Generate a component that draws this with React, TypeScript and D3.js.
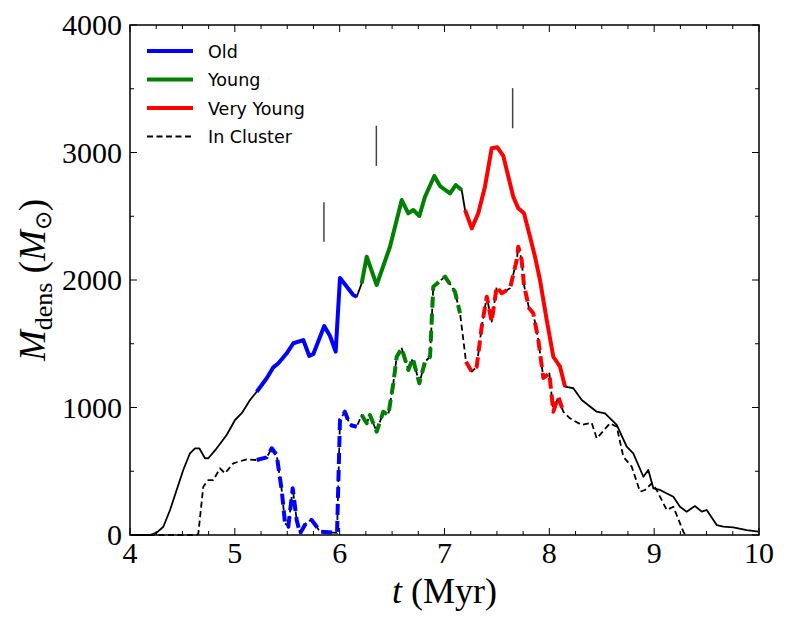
import * as d3 from "d3";

// total dense mass vs time (solid line)
const T_TOTAL = [4.0, 4.19, 4.255, 4.318, 4.382, 4.445, 4.508, 4.572, 4.62, 4.661, 4.715, 4.747, 4.827, 4.922, 5.002, 5.066, 5.145, 5.209, 5.304, 5.367, 5.415, 5.495, 5.558, 5.653, 5.71, 5.749, 5.853, 5.908, 5.962, 6.003, 6.13, 6.163, 6.21, 6.258, 6.353, 6.48, 6.592, 6.655, 6.702, 6.76, 6.814, 6.903, 6.957, 7.053, 7.107, 7.164, 7.196, 7.26, 7.322, 7.386, 7.45, 7.504, 7.561, 7.609, 7.656, 7.704, 7.758, 7.816, 7.863, 7.911, 7.975, 8.038, 8.102, 8.15, 8.229, 8.309, 8.452, 8.531, 8.643, 8.738, 8.801, 8.897, 8.944, 8.992, 9.056, 9.183, 9.246, 9.31, 9.389, 9.454, 9.501, 9.597, 9.66, 9.755, 9.883, 9.994];
const M_TOTAL = [0, 0, 18, 65, 196, 353, 510, 641, 680, 680, 602, 602, 680, 784, 902, 955, 1059, 1124, 1229, 1315, 1347, 1425, 1504, 1529, 1404, 1420, 1639, 1561, 1438, 2016, 1882, 1869, 1974, 2183, 1961, 2261, 2627, 2523, 2549, 2502, 2653, 2816, 2737, 2680, 2745, 2706, 2549, 2405, 2523, 2732, 3033, 3041, 2973, 2810, 2653, 2562, 2523, 2340, 2183, 2000, 1686, 1398, 1320, 1163, 1151, 1059, 967, 954, 863, 693, 641, 457, 510, 366, 353, 300, 222, 183, 227, 183, 196, 78, 65, 60, 39, 26];

// mass in cluster (dashed line)
const T_CLUSTER = [4.0, 4.64, 4.652, 4.699, 4.747, 4.795, 4.859, 4.906, 4.985, 5.113, 5.209, 5.304, 5.352, 5.399, 5.447, 5.479, 5.51, 5.552, 5.59, 5.622, 5.686, 5.733, 5.781, 5.812, 5.939, 5.975, 6.003, 6.05, 6.098, 6.163, 6.21, 6.258, 6.289, 6.353, 6.416, 6.464, 6.512, 6.544, 6.592, 6.655, 6.697, 6.76, 6.814, 6.862, 6.893, 7.005, 7.1, 7.148, 7.18, 7.205, 7.26, 7.307, 7.355, 7.403, 7.45, 7.498, 7.546, 7.625, 7.689, 7.704, 7.736, 7.758, 7.806, 7.847, 7.895, 7.943, 8.0, 8.038, 8.086, 8.133, 8.197, 8.309, 8.404, 8.452, 8.579, 8.643, 8.706, 8.786, 8.865, 8.913, 8.977, 9.024, 9.12, 9.183, 9.278, 9.3];
const M_CLUSTER = [0, 0, 13, 379, 431, 431, 523, 484, 562, 594, 588, 609, 680, 627, 353, 92, 65, 366, 118, 13, 104, 118, 65, 26, 18, 16, 902, 967, 863, 849, 941, 876, 941, 810, 967, 941, 1190, 1398, 1464, 1294, 1386, 1190, 1359, 1398, 1947, 2026, 1908, 1739, 1529, 1359, 1281, 1320, 1634, 1869, 1673, 1947, 1896, 1935, 2157, 2261, 2157, 1961, 1780, 1739, 1529, 1231, 1268, 967, 1085, 967, 915, 863, 881, 758, 876, 849, 614, 536, 340, 353, 405, 353, 196, 222, 26, 0];

const GROUPS = ["Old", "Young", "Very Young"];
const COLORS = ["#0000ff", "#008000", "#ff0000"];
const TOTAL_RANGES = [[5.2, 6.17], [6.2, 7.17], [7.19, 8.16]];
const CLUSTER_RANGES = [[5.2, 6.17], [6.2, 7.15], [7.2, 8.14]];

const MARKER_T = [5.85, 6.35, 7.65];
const MARKER_M = [[2300, 2610], [2895, 3210], [3190, 3505]];

const X_TICKS = [4, 5, 6, 7, 8, 9, 10];
const Y_TICKS = [0, 1000, 2000, 3000, 4000];

const W = 789, H = 630;
const L = 130, R = 759, T = 25, B = 535;

export default function App() {
  const x = d3.scaleLinear().domain([4, 10]).range([L, R]);
  const y = d3.scaleLinear().domain([0, 4000]).range([B, T]);
  const line = d3.line<[number, number]>().x(d => x(d[0])).y(d => y(d[1]));

  const total: [number, number][] = T_TOTAL.map((t, i) => [t, M_TOTAL[i]]);
  const cluster: [number, number][] = T_CLUSTER.map((t, i) => [t, M_CLUSTER[i]]);
  const part = (pts: [number, number][], r: number[]) => pts.filter(p => p[0] >= r[0] && p[0] <= r[1]);

  const xMinor = d3.range(4, 10.001, 0.25);
  const yMinor = d3.range(0, 4001, 500);
  const serif = "'Liberation Serif', 'Times New Roman', serif";
  const sans = "'DejaVu Sans', sans-serif";

  return (
    <svg width={W} height={H} style={{ position: "absolute", left: 0, top: 0, background: "#fff" }}>
      <g fill="none" strokeLinejoin="round">
        <path d={line(cluster) || ""} stroke="#000" strokeWidth={1.8} strokeDasharray="6,3.5" />
        {CLUSTER_RANGES.map((r, i) => (
          <path key={"c" + i} d={line(part(cluster, r)) || ""} stroke={COLORS[i]} strokeWidth={4} strokeDasharray="11,6" />
        ))}
        <path d={line(total) || ""} stroke="#000" strokeWidth={1.8} />
        {TOTAL_RANGES.map((r, i) => (
          <path key={"t" + i} d={line(part(total, r)) || ""} stroke={COLORS[i]} strokeWidth={4} />
        ))}
      </g>

      {MARKER_T.map((t, i) => (
        <line key={"m" + i} x1={x(t)} x2={x(t)} y1={y(MARKER_M[i][0])} y2={y(MARKER_M[i][1])} stroke="#444" strokeWidth={1.5} />
      ))}

      {/* ticks, inward on every side */}
      <g stroke="#000" strokeWidth={1}>
        {xMinor.map((v, i) => {
          const len = Number.isInteger(v) ? 7 : 4;
          return (
            <g key={"xt" + i}>
              <line x1={x(v)} x2={x(v)} y1={B} y2={B - len} />
              <line x1={x(v)} x2={x(v)} y1={T} y2={T + len} />
            </g>
          );
        })}
        {yMinor.map((v, i) => {
          const len = v % 1000 === 0 ? 7 : 4;
          return (
            <g key={"yt" + i}>
              <line x1={L} x2={L + len} y1={y(v)} y2={y(v)} />
              <line x1={R} x2={R - len} y1={y(v)} y2={y(v)} />
            </g>
          );
        })}
      </g>
      <rect x={L} y={T} width={R - L} height={B - T} fill="none" stroke="#000" strokeWidth={1.5} />

      <g fontFamily={serif} fontSize={30} fill="#000">
        {X_TICKS.map(v => (
          <text key={"xl" + v} x={x(v)} y={563} textAnchor="middle">{v}</text>
        ))}
        {Y_TICKS.map(v => (
          <text key={"yl" + v} x={122} y={y(v) + 10} textAnchor="end">{v}</text>
        ))}
      </g>

      <text x={x(7)} y={603} textAnchor="middle" fontFamily={serif} fontSize={36}>
        <tspan fontStyle="italic">t</tspan> (Myr)
      </text>
      <text transform={`translate(45, ${(T + B) / 2}) rotate(-90)`} textAnchor="middle" fontFamily={serif} fontSize={37}>
        <tspan fontStyle="italic">M</tspan>
        <tspan fontSize={26} dy={7}>dens</tspan>
        <tspan dy={-7}> (</tspan>
        <tspan fontStyle="italic">M</tspan>
        <tspan fontSize={23} dy={6}>⊙</tspan>
        <tspan dy={-6}>)</tspan>
      </text>

      {/* legend */}
      <g fontFamily={sans} fontSize={17.5}>
        {[...GROUPS, "In Cluster"].map((g, i) => {
          const yy = 51 + i * 28.5;
          return (
            <g key={"lg" + i}>
              <line x1={147} x2={193} y1={yy} y2={yy}
                stroke={i < 3 ? COLORS[i] : "#000"}
                strokeWidth={i < 3 ? 4 : 1.8}
                strokeDasharray={i < 3 ? undefined : "6,3.5"} />
              <text x={208} y={yy + 6.5}>{g}</text>
            </g>
          );
        })}
      </g>
    </svg>
  );
}
